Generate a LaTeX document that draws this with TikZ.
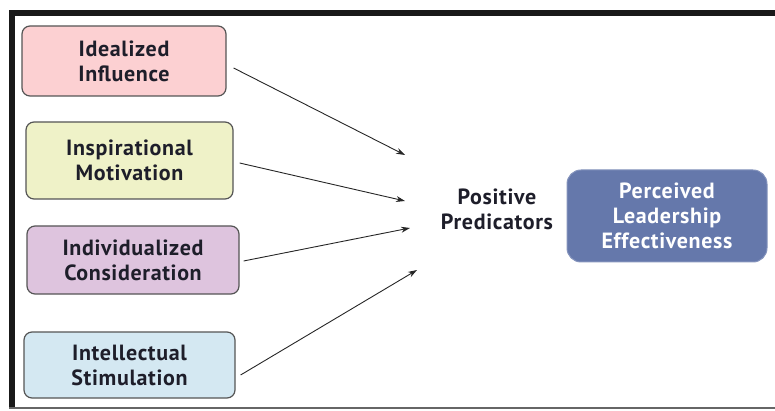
\documentclass[tikz,border=0pt]{standalone}
\usepackage{fontspec}
\setmainfont{PT Sans}[LetterSpace=3]
\usetikzlibrary{arrows.meta}
\definecolor{pinkf}{HTML}{FCD0D2}
\definecolor{yellowf}{HTML}{EFF2C8}
\definecolor{purplef}{HTML}{DEC4DE}
\definecolor{bluef}{HTML}{D4E8F2}
\definecolor{navyf}{HTML}{6578AB}
\definecolor{txt}{HTML}{1E1E2A}
\definecolor{boxline}{HTML}{555555}
\tikzset{
  lbl/.style={font=\bfseries\fontsize{22}{25}\selectfont, align=center, inner sep=0pt},
  srcbox/.style={lbl, draw=boxline, line width=1.2pt, rounded corners=8pt, text=txt},
  outbox/.style={lbl, draw=navyf!80!white, fill=navyf, line width=1pt, rounded corners=14pt, text=white},
  conn/.style={line width=0.9pt, draw=black!85, -{Stealth[length=9pt,width=6pt]}}
}
\begin{document}
\begin{tikzpicture}[x=1pt,y=-1pt]
\useasboundingbox (0,0) rectangle (775,411);
% frame
\draw[line width=6pt, black!90] (775,13) -- (12,13) -- (12,408);
\draw[line width=1.5pt, black!60] (9,408) -- (775,408);
% source boxes
\node[srcbox, fill=pinkf, minimum width=204pt, minimum height=70pt] (ii) at (124,61) {Idealized\\Influence};
\node[srcbox, fill=yellowf, minimum width=207pt, minimum height=77pt] (im) at (129.5,160.5) {Inspirational\\Motivation};
\node[srcbox, fill=purplef, minimum width=212pt, minimum height=68pt] (ic) at (133,260) {Individualized\\Consideration};
\node[srcbox, fill=bluef, minimum width=211pt, minimum height=66pt] (is) at (129.5,365) {Intellectual\\Stimulation};
% positive predicators
\node[lbl, text=txt] (pp) at (497,209) {Positive\\Predicators};
% arrow targets
\coordinate (t1) at (405,155);
\coordinate (t2) at (405,201);
\coordinate (t3) at (410,228);
\coordinate (t4) at (417,270);
% outcome
\node[outbox, minimum width=200pt, minimum height=92pt] (ple) at (667,216) {Perceived\\Leadership\\Effectiveness};
% connectors
\draw[conn] ([xshift=7pt]ii.east |- 0,68) coordinate (s1) -- (t1);
\draw[conn] ([xshift=6pt]im.east |- 0,163) coordinate (s2) -- (t2);
\draw[conn] ([xshift=4pt]ic.east |- 0,261) coordinate (s3) -- (t3);
\draw[conn] ([xshift=5pt]is.east |- 0,375) coordinate (s4) -- (t4);
\end{tikzpicture}
\end{document}
